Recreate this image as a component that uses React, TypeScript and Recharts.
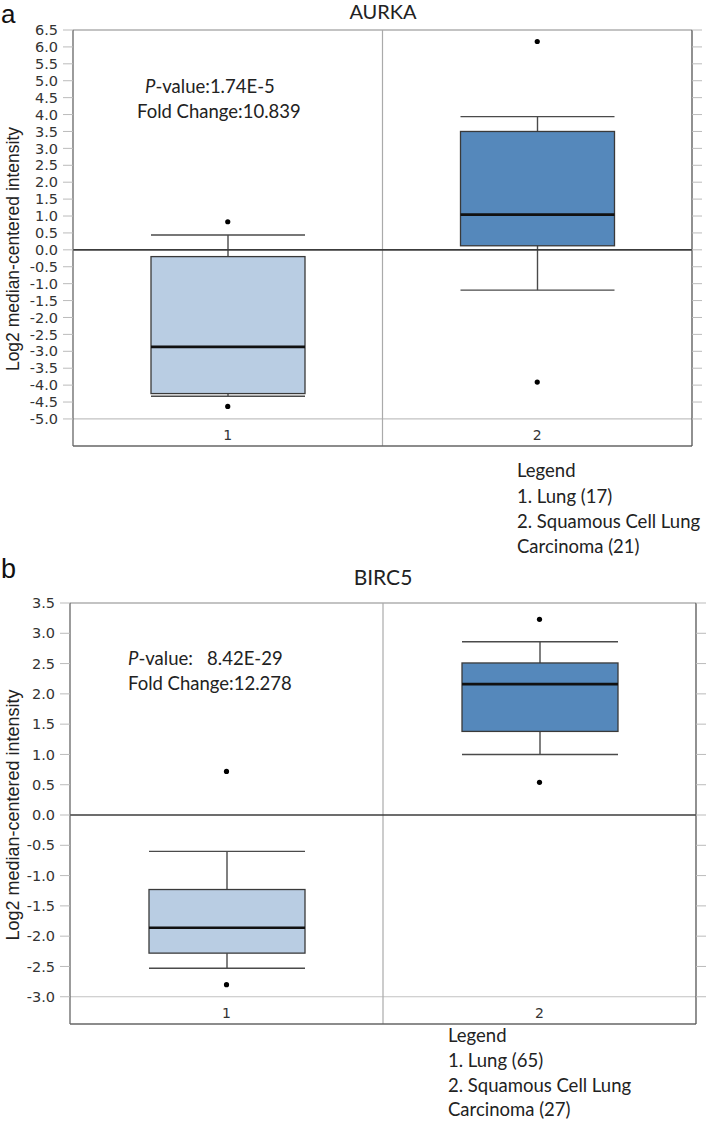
import React from 'react';
import { ComposedChart, Bar, Scatter, XAxis, YAxis, ReferenceLine } from 'recharts';

const CATEGORIES = ['1', '2'];
const BOX_FILLS = ['#b9cde3', '#5588bb'];

// AURKA (panel a)
const AURKA_MIN = [-4.33, -1.19];
const AURKA_Q1 = [-4.25, 0.12];
const AURKA_MEDIAN = [-2.87, 1.04];
const AURKA_Q3 = [-0.2, 3.5];
const AURKA_MAX = [0.44, 3.94];
const AURKA_OUT_HI = [0.83, 6.16];
const AURKA_OUT_LO = [-4.63, -3.91];
const AURKA_TICKS = [-5, -4.5, -4, -3.5, -3, -2.5, -2, -1.5, -1, -0.5, 0, 0.5, 1, 1.5, 2, 2.5, 3, 3.5, 4, 4.5, 5, 5.5, 6, 6.5];

// BIRC5 (panel b)
const BIRC5_MIN = [-2.53, 1.0];
const BIRC5_Q1 = [-2.28, 1.38];
const BIRC5_MEDIAN = [-1.86, 2.16];
const BIRC5_Q3 = [-1.23, 2.51];
const BIRC5_MAX = [-0.6, 2.86];
const BIRC5_OUT_HI = [0.72, 3.23];
const BIRC5_OUT_LO = [-2.8, 0.54];
const BIRC5_TICKS = [-3, -2.5, -2, -1.5, -1, -0.5, 0, 0.5, 1, 1.5, 2, 2.5, 3, 3.5];

const buildRows = (min: number[], q1: number[], median: number[], q3: number[], max: number[], hi: number[], lo: number[]) =>
  CATEGORIES.map((name, i) => ({
    name,
    min: min[i],
    q1: q1[i],
    median: median[i],
    q3: q3[i],
    max: max[i],
    outHi: hi[i],
    outLo: lo[i],
  }));

const aurkaRows = buildRows(AURKA_MIN, AURKA_Q1, AURKA_MEDIAN, AURKA_Q3, AURKA_MAX, AURKA_OUT_HI, AURKA_OUT_LO);
const birc5Rows = buildRows(BIRC5_MIN, BIRC5_Q1, BIRC5_MEDIAN, BIRC5_Q3, BIRC5_MAX, BIRC5_OUT_HI, BIRC5_OUT_LO);

const whiskerRange = (d: any) => [d.min, d.max];

// draws whiskers, box and median inside the bar spanning min..max
const BoxShape = (props: any) => {
  const { x, y, width, height, payload, index } = props;
  if (!payload) return <g />;
  const top = Math.min(y, y + height);
  const h = Math.abs(height);
  const span = payload.max - payload.min;
  const k = span ? h / span : 0;
  const py = (v: number) => top + (payload.max - v) * k;
  const cx = x + width / 2;
  const yQ1 = py(payload.q1);
  const yQ3 = py(payload.q3);
  const yMed = py(payload.median);
  const yMin = py(payload.min);
  const yMax = py(payload.max);
  return (
    <g>
      <line x1={cx} x2={cx} y1={yMax} y2={yQ3} stroke="#4a4a4a" strokeWidth={1.4} />
      <line x1={cx} x2={cx} y1={yQ1} y2={yMin} stroke="#4a4a4a" strokeWidth={1.4} />
      <line x1={x} x2={x + width} y1={yMax} y2={yMax} stroke="#4a4a4a" strokeWidth={1.4} />
      <line x1={x} x2={x + width} y1={yMin} y2={yMin} stroke="#4a4a4a" strokeWidth={1.4} />
      <rect x={x} y={yQ3} width={width} height={yQ1 - yQ3} fill={BOX_FILLS[index % BOX_FILLS.length]} stroke="#3a3a3a" strokeWidth={1.3} />
      <line x1={x} x2={x + width} y1={yMed} y2={yMed} stroke="#111" strokeWidth={2.6} />
    </g>
  );
};

const OutlierDot = (props: any) => {
  const { cx, cy } = props;
  if (cx == null || cy == null) return <g />;
  return <circle cx={cx} cy={cy} r={2.6} fill="#000" />;
};

const CategoryTick = (props: any) => {
  const { x, y, payload } = props;
  return (
    <text x={x} y={y - 6} textAnchor="middle" fontFamily="DejaVu Sans" fontSize={14} fill="#333">
      {payload.value}
    </text>
  );
};

const EmptyTick = () => <g />;

interface PanelProps {
  rows: any[];
  ticks: number[];
  domain: [number, number];
  top: number;
  height: number;
  marginTop: number;
  marginRight: number;
  yAxisWidth: number;
  barSize: number;
  baseLine: number;
}

const BoxPanel = ({ rows, ticks, domain, top, height, marginTop, marginRight, yAxisWidth, barSize, baseLine }: PanelProps) => (
  <div style={{ position: 'absolute', left: 0, top }}>
    <ComposedChart
      width={709}
      height={height}
      data={rows}
      margin={{ top: marginTop, right: marginRight, bottom: 0, left: 0 }}
    >
      <XAxis
        dataKey="name"
        height={14}
        tickSize={0}
        tickMargin={0}
        tickLine={false}
        axisLine={{ stroke: '#666', strokeWidth: 1.3 }}
        tick={CategoryTick}
      />
      <YAxis
        type="number"
        domain={domain}
        ticks={ticks}
        interval={0}
        width={yAxisWidth}
        tickSize={10}
        tickMargin={5}
        tickFormatter={(v: number) => v.toFixed(1)}
        tick={{ fill: '#333', fontSize: 14.5, fontFamily: 'DejaVu Sans' }}
        tickLine={{ stroke: '#bbb' }}
        axisLine={{ stroke: '#666', strokeWidth: 1.3 }}
        allowDataOverflow
      />
      <YAxis
        yAxisId="right"
        orientation="right"
        type="number"
        domain={domain}
        ticks={ticks}
        interval={0}
        width={11}
        tickSize={10}
        tick={EmptyTick}
        tickLine={{ stroke: '#bbb' }}
        axisLine={{ stroke: '#555', strokeWidth: 1.3 }}
        allowDataOverflow
      />
      <ReferenceLine y={domain[1]} stroke="#888" strokeWidth={1.2} />
      <ReferenceLine y={baseLine} stroke="#c2c2c2" strokeWidth={1.2} />
      <ReferenceLine x="1" position="end" stroke="#aaa" strokeWidth={1.2} />
      <Bar dataKey={whiskerRange} barSize={barSize} shape={BoxShape} isAnimationActive={false} />
      <ReferenceLine y={0} stroke="#3c3c3c" strokeWidth={1.6} />
      <Scatter dataKey="outHi" shape={OutlierDot} isAnimationActive={false} />
      <Scatter dataKey="outLo" shape={OutlierDot} isAnimationActive={false} />
    </ComposedChart>
  </div>
);

const labelFont = { fontFamily: 'Lato, "Open Sans", sans-serif', fill: '#222' };
const sansFont = 'Liberation Sans, Arial, sans-serif';

export default function App() {
  return (
    <div style={{ position: 'absolute', left: 0, top: 0, width: 709, height: 1123, overflow: 'hidden', background: '#fff' }}>
      <BoxPanel
        rows={aurkaRows}
        ticks={AURKA_TICKS}
        domain={[-5.8, 6.5]}
        top={0}
        height={460}
        marginTop={30}
        marginRight={6}
        yAxisWidth={73}
        barSize={154}
        baseLine={-5}
      />
      <BoxPanel
        rows={birc5Rows}
        ticks={BIRC5_TICKS}
        domain={[-3.45, 3.5]}
        top={560}
        height={478}
        marginTop={43}
        marginRight={2}
        yAxisWidth={70}
        barSize={156}
        baseLine={-3}
      />
      <svg width={709} height={1123} style={{ position: 'absolute', left: 0, top: 0, pointerEvents: 'none', overflow: 'visible' }}>
        <text x={1} y={23} fontFamily={sansFont} fontSize={26} fill="#111">a</text>
        <text x={383} y={19} textAnchor="middle" fontSize={20} {...labelFont}>AURKA</text>
        <text x={145} y={93} fontSize={18.5} {...labelFont}>
          <tspan fontStyle="italic">P</tspan>-value:1.74E-5
        </text>
        <text x={137} y={118} fontSize={18.5} {...labelFont}>Fold Change:10.839</text>
        <text transform="rotate(-90)" x={-249} y={19} textAnchor="middle" fontFamily={sansFont} fontSize={17.5} fill="#222">
          Log2 median-centered intensity
        </text>
        <text x={517} y={477} fontSize={18.5} {...labelFont}>Legend</text>
        <text x={517} y={503} fontSize={18.5} {...labelFont}>1. Lung (17)</text>
        <text x={517} y={528} fontSize={18.5} {...labelFont}>2. Squamous Cell Lung</text>
        <text x={517} y={553} fontSize={18.5} {...labelFont}>Carcinoma (21)</text>

        <text x={1} y={578} fontFamily={sansFont} fontSize={27} fill="#111">b</text>
        <text x={383} y={585} textAnchor="middle" fontSize={21} {...labelFont}>BIRC5</text>
        <text x={128} y={665} fontSize={18.5} {...labelFont} xmlSpace="preserve">
          <tspan fontStyle="italic">P</tspan>-value:   8.42E-29
        </text>
        <text x={128} y={690} fontSize={18.5} {...labelFont}>Fold Change:12.278</text>
        <text transform="rotate(-90)" x={-815} y={19} textAnchor="middle" fontFamily={sansFont} fontSize={18} fill="#222">
          Log2 median-centered intensity
        </text>
        <text x={448} y={1042} fontSize={18.5} {...labelFont}>Legend</text>
        <text x={448} y={1067} fontSize={18.5} {...labelFont}>1. Lung (65)</text>
        <text x={448} y={1092} fontSize={18.5} {...labelFont}>2. Squamous Cell Lung</text>
        <text x={448} y={1116} fontSize={18.5} {...labelFont}>Carcinoma (27)</text>
      </svg>
    </div>
  );
}
